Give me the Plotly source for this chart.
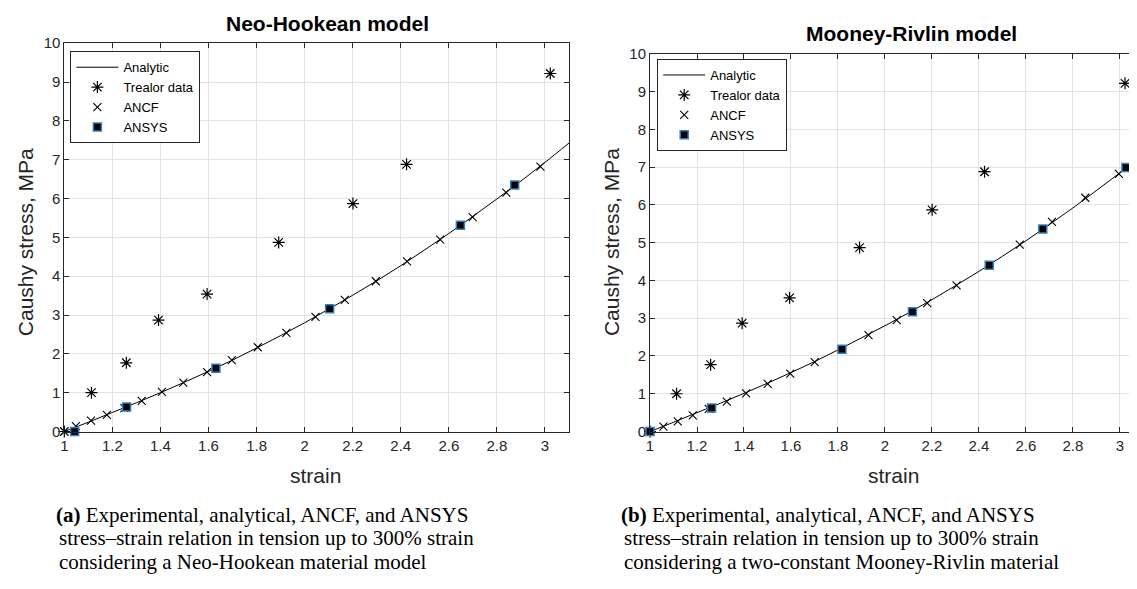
import plotly.graph_objects as go

# ---------------- data ----------------
analytic_x = [1.0, 1.1, 1.2, 1.3, 1.4, 1.5, 1.6, 1.7, 1.8, 1.9, 2.0,
              2.1, 2.2, 2.3, 2.4, 2.5, 2.6, 2.7, 2.8, 2.9, 3.0, 3.1]
analytic_nh = [0.0, 0.24, 0.49, 0.74, 1.0, 1.27, 1.55, 1.84, 2.15, 2.47, 2.80,
               3.15, 3.51, 3.88, 4.27, 4.68, 5.10, 5.54, 5.99, 6.45, 6.93, 7.43]
analytic_mr = [0.0, 0.245, 0.50, 0.75, 1.01, 1.28, 1.56, 1.85, 2.16, 2.48, 2.80,
               3.14, 3.49, 3.86, 4.24, 4.64, 5.05, 5.48, 5.92, 6.38, 6.85, 7.33]

treloar_x = [1.0, 1.113, 1.258, 1.392, 1.594, 1.892, 2.201, 2.424, 3.022]
treloar_y = [0.0, 1.0, 1.77, 2.87, 3.54, 4.87, 5.87, 6.88, 9.22]

ancf_nh_x = [1.048, 1.111, 1.177, 1.25, 1.322, 1.406, 1.495, 1.594, 1.697, 1.805,
             1.924, 2.045, 2.167, 2.296, 2.426, 2.564, 2.699, 2.839, 2.981]
ancf_nh_y = [0.14, 0.28, 0.43, 0.60, 0.79, 1.02, 1.26, 1.53, 1.84, 2.17,
             2.54, 2.95, 3.39, 3.87, 4.38, 4.94, 5.52, 6.15, 6.82]

ancf_mr_x = [1.057, 1.118, 1.182, 1.25, 1.327, 1.409, 1.501, 1.597, 1.701, 1.930,
             2.050, 2.180, 2.305, 2.574, 2.711, 2.853, 2.996]
ancf_mr_y = [0.13, 0.27, 0.43, 0.60, 0.79, 1.01, 1.26, 1.53, 1.84, 2.55,
             2.95, 3.40, 3.87, 4.95, 5.55, 6.19, 6.82]

ansys_nh_x = [1.043, 1.259, 1.631, 2.104, 2.648, 2.874]
ansys_nh_y = [0.0, 0.63, 1.63, 3.16, 5.31, 6.35]

ansys_mr_x = [1.0, 1.262, 1.817, 2.117, 2.444, 2.672, 3.026]
ansys_mr_y = [0.0, 0.62, 2.18, 3.17, 4.40, 5.36, 6.99]

x_tickvals = [1.0, 1.2, 1.4, 1.6, 1.8, 2.0, 2.2, 2.4, 2.6, 2.8, 3.0]
x_ticktext = ["1", "1.2", "1.4", "1.6", "1.8", "2", "2.2", "2.4", "2.6", "2.8", "3"]
y_tickvals = [0, 1, 2, 3, 4, 5, 6, 7, 8, 9, 10]
y_ticktext = ["0", "1", "2", "3", "4", "5", "6", "7", "8", "9", "10"]

titles = ["Neo-Hookean model", "Mooney-Rivlin model"]
x_label = "strain"
y_label = "Caushy stress, MPa"
legend_names = ["Analytic", "Trealor data", "ANCF", "ANSYS"]
caption_a = ["<b>(a)</b> Experimental, analytical, ANCF, and ANSYS",
             "stress–strain relation in tension up to 300% strain",
             "considering a Neo-Hookean material model"]
caption_b = ["<b>(b)</b> Experimental, analytical, ANCF, and ANSYS",
             "stress–strain relation in tension up to 300% strain",
             "considering a two-constant Mooney-Rivlin material"]

# ---------------- layout helpers ----------------
W, H = 1137, 589
OFF = 8  # page body margin
FW, FH = W - OFF, H - OFF
def fx(p):
    return (p - OFF) / FW
def fy(p):
    return 1 - (p - OFF) / FH

SANS = "Liberation Sans, Arial, Helvetica, sans-serif"
SERIF = "Liberation Serif, Times New Roman, serif"
AX = "#262626"
GRID = "#e3e3e3"
SQ_EDGE = "#2f80c0"

fig = go.Figure()

panels = [
    dict(xa="x", ya="y", leg="legend", an=analytic_nh, ax_=ancf_nh_x, ay_=ancf_nh_y,
         sx=ansys_nh_x, sy=ansys_nh_y),
    dict(xa="x2", ya="y2", leg="legend2", an=analytic_mr, ax_=ancf_mr_x, ay_=ancf_mr_y,
         sx=ansys_mr_x, sy=ansys_mr_y),
]

for p in panels:
    fig.add_trace(go.Scatter(x=analytic_x, y=p["an"], mode="lines", name=legend_names[0],
                             line=dict(color="black", width=1, shape="spline"),
                             xaxis=p["xa"], yaxis=p["ya"], legend=p["leg"]))
    fig.add_trace(go.Scatter(x=treloar_x, y=treloar_y, mode="markers", name=legend_names[1],
                             marker=dict(symbol="asterisk-open", size=10, color="black",
                                         line=dict(color="black", width=1.2)),
                             cliponaxis=False,
                             xaxis=p["xa"], yaxis=p["ya"], legend=p["leg"]))
    fig.add_trace(go.Scatter(x=p["ax_"], y=p["ay_"], mode="markers", name=legend_names[2],
                             marker=dict(symbol="x-thin-open", size=8, color="black",
                                         line=dict(color="black", width=1.1)),
                             cliponaxis=False,
                             xaxis=p["xa"], yaxis=p["ya"], legend=p["leg"]))
    fig.add_trace(go.Scatter(x=p["sx"], y=p["sy"], mode="markers", name=legend_names[3],
                             marker=dict(symbol="square", size=8, color="black",
                                         line=dict(color=SQ_EDGE, width=1.5)),
                             cliponaxis=False,
                             xaxis=p["xa"], yaxis=p["ya"], legend=p["leg"]))

common_x = dict(tickmode="array", tickvals=x_tickvals, ticktext=x_ticktext,
                ticks="inside", ticklen=5, tickcolor=AX, tickwidth=1,
                showline=True, linecolor=AX, linewidth=1,
                showgrid=True, gridcolor=GRID, gridwidth=1, zeroline=False,
                tickfont=dict(family=SANS, size=15, color=AX))
common_y = dict(tickmode="array", tickvals=y_tickvals, ticktext=y_ticktext,
                ticks="inside", ticklen=5, tickcolor=AX, tickwidth=1,
                showline=True, linecolor=AX, linewidth=1, range=[0, 10],
                showgrid=True, gridcolor=GRID, gridwidth=1, zeroline=False,
                tickfont=dict(family=SANS, size=15, color=AX))

legend_common = dict(bgcolor="white", bordercolor=AX, borderwidth=1,
                     font=dict(family=SANS, size=13, color="black"),
                     xanchor="left", yanchor="top", tracegroupgap=0,
                     itemwidth=42, itemclick=False)

fig.update_layout(
    width=FW, height=FH, autosize=False,
    margin=dict(l=0, r=0, t=0, b=0),
    paper_bgcolor="white", plot_bgcolor="white",
    xaxis=dict(domain=[fx(60.5), fx(567)], range=[1, 3.1], mirror="ticks", anchor="y",
               **common_x),
    yaxis=dict(domain=[fy(435), fy(35)], mirror="ticks", anchor="x", **common_y),
    xaxis2=dict(domain=[fx(648.3), 1.0], range=[1, 3.073], mirror="ticks", anchor="y2",
                **common_x),
    yaxis2=dict(domain=[fy(435), fy(46)], mirror=False, anchor="x2", **common_y),
    legend=dict(x=fx(66.6), y=fy(43.3), **legend_common),
    legend2=dict(x=fx(655.5), y=fy(51.3), **legend_common),
    showlegend=True,
)

annots = []
# titles
annots.append(dict(text="<b>%s</b>" % titles[0], x=fx(325), y=fy(15), xref="paper", yref="paper",
                   showarrow=False, xanchor="center", yanchor="middle",
                   font=dict(family=SANS, size=21, color="black")))
annots.append(dict(text="<b>%s</b>" % titles[1], x=fx(911), y=fy(25), xref="paper", yref="paper",
                   showarrow=False, xanchor="center", yanchor="middle",
                   font=dict(family=SANS, size=21, color="black")))
# axis labels
for cx in (313, 893):
    annots.append(dict(text=x_label, x=fx(cx), y=fy(480), xref="paper", yref="paper",
                       showarrow=False, xanchor="center", yanchor="middle",
                       font=dict(family=SANS, size=21, color=AX)))
for cx in (21, 609):
    annots.append(dict(text=y_label, x=fx(cx), y=fy(240), xref="paper", yref="paper",
                       showarrow=False, xanchor="center", yanchor="middle", textangle=-90,
                       font=dict(family=SANS, size=21, color=AX)))
# captions, one annotation per line
for cx, lines in ((50, caption_a), (617, caption_b)):
    for i, (cy, txt) in enumerate(zip((521, 545, 569), lines)):
        annots.append(dict(text=txt, x=fx(cx if i == 0 else cx + 3), y=fy(cy),
                           xref="paper", yref="paper",
                           showarrow=False, xanchor="left", yanchor="middle", align="left",
                           font=dict(family=SERIF, size=21, color="black")))
fig.update_layout(annotations=annots)

fig.write_html("out.html")
